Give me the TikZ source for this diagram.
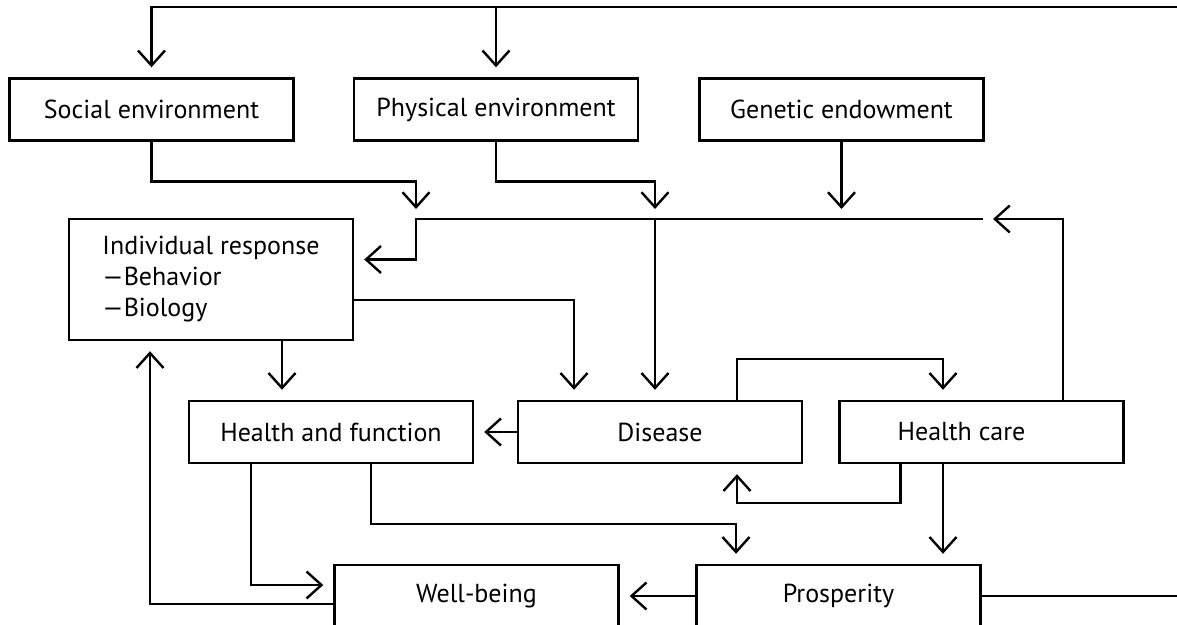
\documentclass[tikz,border=0pt]{standalone}
\usepackage{fontspec}
\setmainfont{PT Sans}
\usepackage{tikz}
\usetikzlibrary{arrows.meta, positioning}

\begin{document}
\begin{tikzpicture}[
    x=0.5pt, y=-0.5pt,
    box/.style={rectangle, draw=black, line width=1.2pt, fill=white, inner sep=0pt,
                minimum width=142pt, minimum height=31pt, align=center,
                font=\fontsize{13}{15.5}\selectfont},
    arrow/.style={-{Straight Barb[length=7.5pt, width=13.5pt]}, line width=1.2pt, shorten >=5pt},
    wire/.style={line width=1.2pt}
]
\useasboundingbox (0,0) rectangle (1177,625);

% Nodes
\node[box] (social) at (151.5,109.5) {Social environment};
\node[box] (physical) at (496,109.5) {Physical environment};
\node[box] (genetic) at (841.5,109.5) {Genetic endowment};
\node[box, minimum height=60.5pt, align=left] (indiv) at (211,279.5) {Individual response\\—Behavior\\—Biology};
\node[box] (hf) at (331,432) {Health and function};
\node[box] (disease) at (660,432) {Disease};
\node[box] (hc) at (981.5,432) {Health care\hspace*{20pt}};
\node[box] (wb) at (476.5,596) {Well-being};
\node[box] (prosp) at (838.5,596) {Prosperity};

% free ends and the bus line
\coordinate (topR) at (1177,7);
\coordinate (prospR) at (1177,596);
\coordinate (busL) at (416,219);
\coordinate (busR) at (983,219);
\coordinate (busD) at (655,219);

% Arrows
\draw[arrow] (topR) -| (social.north);
\draw[arrow] (physical.north |- topR) -- (physical.north);
\draw[arrow] (social.south) -- ++(0,40) -| (busL);
\draw[arrow] (physical.south) -- ++(0,40) -| (busD);
\draw[arrow] (genetic.south) -- (genetic.south |- busR);
\draw[arrow] (busR) -- (busL) |- ([yshift=10pt]indiv.east);
\draw[arrow] (busD) -- (busD |- disease.north);
\draw[arrow] ([xshift=40.75pt]hc.north) |- (busR);
\draw[arrow] ([yshift=-10.25pt]indiv.east) -| ([xshift=-43pt]disease.north);
\draw[arrow] ([xshift=35.5pt]indiv.south) -- ([xshift=35.5pt]indiv.south |- hf.north);
\draw[arrow] (disease.west) -- (hf.east);
\draw[arrow] ([xshift=38.5pt]disease.north) -- ++(0,-41) -| ([xshift=-19.25pt]hc.north);
\draw[arrow] ([xshift=-40.5pt]hc.south) -- ++(0,39) -| ([xshift=38.5pt]disease.south);
\draw[arrow] ([xshift=-19.25pt]hc.south) -- ([xshift=-19.25pt]hc.south |- prosp.north);
\draw[arrow] ([xshift=-40pt]hf.south) |- ([yshift=5.5pt]wb.west);
\draw[arrow] ([xshift=20pt]hf.south) -- ++(0,60) -| ([xshift=-51.25pt]prosp.north);
\draw[arrow] (prosp.west) -- (wb.east);
\draw[arrow] ([yshift=-4pt]wb.west) -| ([xshift=-30.5pt]indiv.south);
\draw[wire] (prosp.east) -- (prospR);

\end{tikzpicture}
\end{document}
